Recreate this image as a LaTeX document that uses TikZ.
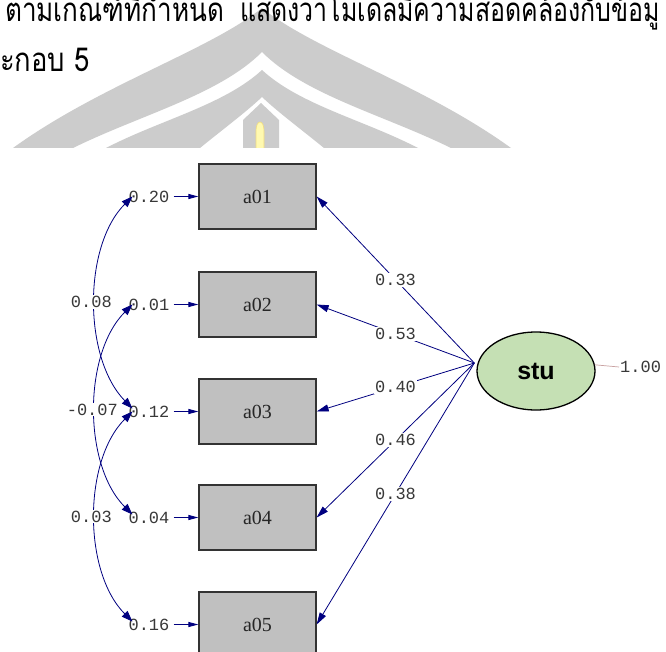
\documentclass[tikz,border=0pt]{standalone}
\usepackage{fontspec}
\newfontfamily\lthai[Script=Thai]{Loma}
\newfontfamily\lmono{Liberation Mono}
\newfontfamily\lserif{Liberation Serif}
\newfontfamily\lsans{Liberation Sans}
\usetikzlibrary{arrows.meta,shapes.geometric}
\definecolor{wmgray}{HTML}{CCCCCC}
\definecolor{flamefill}{HTML}{FFF9B0}
\definecolor{flameedge}{HTML}{F0DC80}
\definecolor{boxgray}{HTML}{C0C0C0}
\definecolor{latgreen}{HTML}{C5E0B4}
\definecolor{navyc}{HTML}{000080}
\definecolor{numgray}{HTML}{383838}
\definecolor{varlinec}{HTML}{C8A0A0}
\begin{document}
\begin{tikzpicture}[x=1pt,y=-1pt,
 obsbox/.style={rectangle, draw=black!80, line width=1.3pt, fill=boxgray, minimum width=117pt, minimum height=65pt, inner sep=0pt, font=\lserif\fontsize{20}{20}\selectfont, text=black!85},
 latent/.style={ellipse, draw=black, line width=1.3pt, fill=latgreen, minimum width=118pt, minimum height=78pt, inner sep=0pt, font=\lsans\bfseries\fontsize{25}{25}\selectfont},
 numlab/.style={font=\lmono\fontsize{17}{17}\selectfont, text=numgray, inner sep=1pt},
 numbg/.style={numlab, fill=white},
 loadarrow/.style={draw=navyc, line width=0.8pt, -{Triangle[length=12pt,width=7pt]}},
 errarrow/.style={draw=navyc, line width=1pt, -{Triangle[length=10pt,width=5pt]}, shorten <=3pt},
 covarrow/.style={draw=navyc, line width=0.8pt, {Triangle[length=11pt,width=8pt]}-{Triangle[length=11pt,width=8pt]}},
 thaitext/.style={font=\lthai\fontsize{33}{33}\selectfont, inner sep=0pt, anchor=base west, text=black},
 wm/.style={fill=wmgray, draw=none}
]
\clip (0,0) rectangle (666,652);
\fill[white] (0,0) rectangle (666,652);

% watermark
\begin{scope}
\clip (0,0) rectangle (666,148);
\fill[wm] (13,148) .. controls (100,85) and (210,50) .. (262,8)
  .. controls (314,50) and (424,85) .. (511,148) -- (451,148)
  .. controls (384,115) and (305,95) .. (262,52)
  .. controls (219,95) and (140,115) .. (73,148) -- cycle;
\fill[wm] (106,148) .. controls (160,120) and (224,105) .. (262,70)
  .. controls (300,105) and (364,120) .. (418,148) -- (324,148)
  .. controls (302,130) and (279,113) .. (262,97)
  .. controls (245,113) and (222,130) .. (200,148) -- cycle;
\fill[wm] (243,148) -- (243,120) -- (261,103) -- (279,120) -- (279,148) -- cycle;
\filldraw[fill=flamefill, draw=flameedge, line width=0.6pt] (256,149) -- (256,131)
  .. controls (256,125) and (258,122) .. (260,122)
  .. controls (262,122) and (264,125) .. (264,131) -- (264,149) -- cycle;
\end{scope}

% Thai text
\node[thaitext] (t1a) at (5,22) {\scalebox{0.79}[1]{ตามเกณฑ์ที่กำหนด}};
\node[thaitext] (t1b) at (240,22) {\scalebox{0.755}[1]{แสดงว่าโมเดลมีความสอดคล้องกับข้อมู}};
\node[thaitext] (t2) at (0,72) {\scalebox{0.83}[1]{ะกอบ 5}};

% observed variables
\node[obsbox] (a01) at (257.5,196.5) {a01};
\node[obsbox] (a02) at (257.5,304.5) {a02};
\node[obsbox] (a03) at (257.5,411.5) {a03};
\node[obsbox] (a04) at (257.5,517.5) {a04};
\node[obsbox] (a05) at (257.5,624.5) {a05};

% error variances
\node[numlab] (e1) at (149,196.5) {0.20};
\node[numlab] (e2) at (149,304.5) {0.01};
\node[numlab] (e3) at (149,411.5) {0.12};
\node[numlab] (e4) at (149,517.5) {0.04};
\node[numlab] (e5) at (149,624.5) {0.16};
\draw[errarrow] (e1.east) -- (a01.west);
\draw[errarrow] (e2.east) -- (a02.west);
\draw[errarrow] (e3.east) -- (a03.west);
\draw[errarrow] (e4.east) -- (a04.west);
\draw[errarrow] (e5.east) -- (a05.west);

% covariances
\draw[covarrow] ([xshift=5pt]e1.west) .. controls (83,246) and (83,358) ..
  node[numbg, xshift=-4pt] (c1) {0.08} ([xshift=5pt,yshift=3pt]e3.west);
\draw[covarrow] ([xshift=5pt]e2.west) .. controls (83,354) and (83,465) ..
  node[numbg, xshift=-3pt] (c2) {-0.07} ([xshift=5pt,yshift=3pt]e4.west);
\draw[covarrow] ([xshift=5pt]e3.west) .. controls (83,461) and (83,572) ..
  node[numbg, xshift=-4pt] (c3) {0.03} ([xshift=5pt,yshift=3pt]e5.west);

% latent
\node[latent] (stu) at (536,371) {stu};
\coordinate (src) at ([xshift=-2pt,yshift=8pt]stu.west);
\draw[loadarrow] (src) -- node[numbg] (l1) {0.33} (a01.east);
\draw[loadarrow] (src) -- node[numbg] (l2) {0.53} (a02.east);
\draw[loadarrow] (src) -- node[numbg] (l3) {0.40} (a03.east);
\draw[loadarrow] (src) -- node[numbg] (l4) {0.46} (a04.east);
\draw[loadarrow] (src) -- node[numbg] (l5) {0.38} (a05.east);

\node[numlab, anchor=west] (v) at (619,367) {1.00};
\draw[varlinec, line width=0.7pt] (stu.6) -- (v.west);
\end{tikzpicture}
\end{document}
